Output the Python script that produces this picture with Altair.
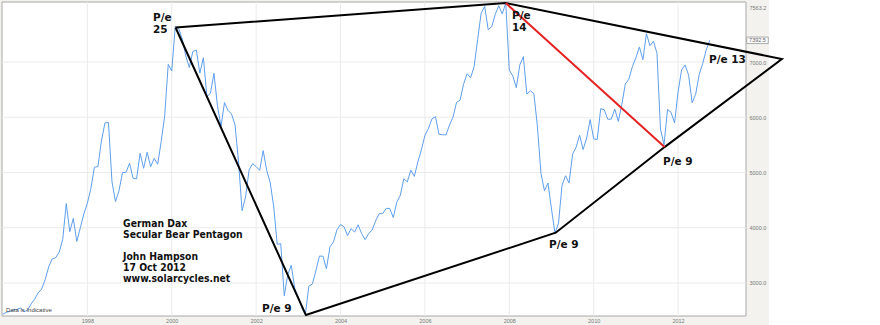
import altair as alt
import pandas as pd

# ---- data: DAX monthly closes ----
years = list(range(1996, 2013))
dax_1996 = [2436, 2470, 2486, 2516, 2523, 2549, 2480, 2510, 2620, 2707, 2819, 2889]
dax_1997 = [3062, 3291, 3436, 3458, 3560, 3791, 4438, 3928, 4169, 3752, 4000, 4250]
dax_1998 = [4442, 4710, 5096, 5107, 5568, 5897, 5904, 4834, 4474, 4671, 5000, 5002]
dax_1999 = [5167, 4895, 4884, 5347, 5076, 5366, 5105, 5257, 5150, 5560, 6030, 6958]
dax_2000 = [6836, 7644, 7599, 7414, 7110, 6898, 7191, 7215, 6798, 7078, 6373, 6434]
dax_2001 = [6795, 6208, 5830, 6265, 6123, 6058, 5862, 5188, 4308, 4559, 5045, 5160]
dax_2002 = [5107, 5039, 5397, 5041, 4818, 4383, 3700, 3712, 2769, 3153, 3320, 2893]
dax_2003 = [2748, 2547, 2424, 2942, 2983, 3221, 3487, 3485, 3257, 3656, 3745, 3965]
dax_2004 = [4059, 4018, 3856, 3985, 3921, 4053, 3896, 3785, 3893, 3960, 4126, 4256]
dax_2005 = [4255, 4350, 4349, 4185, 4461, 4587, 4887, 4830, 5044, 4929, 5193, 5408]
dax_2006 = [5674, 5796, 5970, 6010, 5693, 5683, 5682, 5860, 6004, 6269, 6309, 6597]
dax_2007 = [6789, 6715, 6917, 7409, 7883, 8007, 7584, 7638, 7862, 8019, 7871, 8067]
dax_2008 = [6852, 6748, 6535, 6949, 7097, 6418, 6480, 6422, 5831, 4988, 4669, 4810]
dax_2009 = [4338, 3900, 4085, 4769, 4941, 4809, 5332, 5458, 5675, 5415, 5626, 5957]
dax_2010 = [5609, 5598, 6154, 6136, 5964, 5966, 6148, 5925, 6229, 6601, 6688, 6914]
dax_2011 = [7077, 7272, 7041, 7514, 7294, 7376, 7159, 5785, 5502, 6141, 6089, 5898]
dax_2012 = [6459, 6856, 6947, 6761, 6264, 6416, 6772, 6971, 7216, 7392.5]
monthly = [dax_1996, dax_1997, dax_1998, dax_1999, dax_2000, dax_2001, dax_2002,
           dax_2003, dax_2004, dax_2005, dax_2006, dax_2007, dax_2008, dax_2009,
           dax_2010, dax_2011, dax_2012]

# pentagon vertices (decimal year, index level)
pent_t = [2000.09, 2007.917, 2014.46, 2011.68, 2009.10, 2003.18, 2000.09]
pent_v = [7625, 8067, 7054, 5460, 3910, 2420, 7625]
red_t = [2007.917, 2011.68]
red_v = [8067, 5460]

# annotations
pe_text = ["P/e", "25", "P/e", "14", "P/e 13", "P/e 9", "P/e 9", "P/e 9"]
pe_t = [1999.557, 1999.557, 2008.064, 2008.064, 2012.732, 2011.642, 2008.94, 2002.14]
pe_v = [7742, 7516, 7778, 7561, 6982, 5136, 3633, 2475]

title_lines = ["German Dax", "Secular Bear Pentagon", "John Hampson", "17 Oct 2012",
               "www.solarcycles.net"]
title_v = [4022, 3823, 3425, 3226, 3027]
title_t = 1998.846

note_text = ["Data is Indicative"]
note_t = [1996.073]
note_v = [2511]

x_ticks = [1998, 2000, 2002, 2004, 2006, 2008, 2010, 2012]
y_ticks = [3000, 4000, 5000, 6000, 7000]
y_top_label_pos = 7990
last_label = ["7392.5"]
last_value = [7392.5]

x_domain = [1995.977, 2013.61]
y_domain = [2402.6, 8086]

# ---- tables ----
rows = []
for yr, vals in zip(years, monthly):
    for i, v in enumerate(vals):
        rows.append({"t": yr + i / 12.0, "v": v})
line_df = pd.DataFrame(rows)
pent_df = pd.DataFrame({"t": pent_t, "v": pent_v, "o": list(range(len(pent_t)))})
red_df = pd.DataFrame({"t": red_t, "v": red_v})
pe_df = pd.DataFrame({"t": pe_t, "v": pe_v, "label": pe_text})
title_df = pd.DataFrame({"t": [title_t] * len(title_lines), "v": title_v, "label": title_lines})
note_df = pd.DataFrame({"t": note_t, "v": note_v, "label": note_text})
gx_df = pd.DataFrame({"t": x_ticks})
gy_df = pd.DataFrame({"v": y_ticks})
last_df = pd.DataFrame({"v": last_value, "label": last_label})
dummy = pd.DataFrame({"a": [0]})

W, H = 744, 314
xs = alt.Scale(domain=x_domain, nice=False, zero=False)
ys = alt.Scale(domain=y_domain, nice=False, zero=False)

X = alt.X("t:Q", scale=xs, title=None,
          axis=alt.Axis(values=x_ticks, format="d", grid=False, ticks=False, domain=False,
                        labelFontSize=5.5, labelFont="Liberation Sans", labelColor="#777777",
                        labelPadding=2, zindex=1))
Y = alt.Y("v:Q", scale=ys, title=None,
          axis=alt.Axis(orient="right", values=y_ticks + [y_top_label_pos],
                        labelExpr="datum.value > 7900 ? '7563.2' : format(datum.value, '.1f')",
                        grid=False, ticks=False, domain=False, labelAlign="left",
                        labelBaseline="middle", labelFontSize=5.5, labelFont="Liberation Sans",
                        labelColor="#777777", labelPadding=3, zindex=1))

panel = alt.Chart(dummy).mark_rect(fill="#f3f2ee").encode(
    x=alt.value(-2), x2=alt.value(767), y=alt.value(-2), y2=alt.value(323))
plot_bg = alt.Chart(dummy).mark_rect(fill="white", stroke="#a8a8a8", strokeWidth=1).encode(
    x=alt.value(0), x2=alt.value(W), y=alt.value(0), y2=alt.value(H))

grid_x = alt.Chart(gx_df).mark_rule(color="#ebebeb", strokeWidth=1).encode(
    x=alt.X("t:Q", scale=xs, title=None))
grid_y = alt.Chart(gy_df).mark_rule(color="#ebebeb", strokeWidth=1).encode(
    y=alt.Y("v:Q", scale=ys, title=None))

blue = alt.Chart(line_df).mark_line(color="#5e9fec", strokeWidth=1, clip=False).encode(x=X, y=Y)

pent = alt.Chart(pent_df).mark_line(color="black", strokeWidth=2, clip=False).encode(
    x=alt.X("t:Q", scale=xs, title=None), y=alt.Y("v:Q", scale=ys, title=None), order="o:Q")
red = alt.Chart(red_df).mark_line(color="#e52222", strokeWidth=2, clip=False).encode(
    x=alt.X("t:Q", scale=xs, title=None), y=alt.Y("v:Q", scale=ys, title=None))

pe = alt.Chart(pe_df).mark_text(font="DejaVu Sans", fontWeight="bold", fontSize=10.5,
                                align="left", baseline="alphabetic", color="#111111",
                                clip=False).encode(
    x=alt.X("t:Q", scale=xs, title=None), y=alt.Y("v:Q", scale=ys, title=None), text="label:N")
ttl = alt.Chart(title_df).mark_text(font="DejaVu Sans Condensed", fontWeight="bold", fontSize=10.3,
                                    align="left", baseline="alphabetic", color="#111111").encode(
    x=alt.X("t:Q", scale=xs, title=None), y=alt.Y("v:Q", scale=ys, title=None), text="label:N")
note = alt.Chart(note_df).mark_text(font="Liberation Sans", fontSize=6, align="left",
                                    baseline="middle", color="#444444").encode(
    x=alt.X("t:Q", scale=xs, title=None), y=alt.Y("v:Q", scale=ys, title=None), text="label:N")

box = alt.Chart(last_df).mark_point(shape="M-1,-0.3L1,-0.3L1,0.3L-1,0.3Z", size=466,
                                    filled=True, fill="#fbfbfb", stroke="#9a9a9a",
                                    strokeWidth=0.8, opacity=1, clip=False).encode(
    x=alt.value(755.5), y=alt.Y("v:Q", scale=ys, title=None))
box_txt = alt.Chart(last_df).mark_text(font="Liberation Sans", fontSize=5.5, align="center",
                                       baseline="middle", color="#666666", clip=False).encode(
    x=alt.value(755.5), y=alt.Y("v:Q", scale=ys, title=None), text="label:N")

chart = alt.layer(panel, plot_bg, grid_x, grid_y, blue, pent, red, pe, ttl, note, box, box_txt).properties(
    width=W, height=H,
    autosize=alt.AutoSizeParams(type="none"),
    padding={"left": 2, "top": 2, "right": 134, "bottom": 9},
    background="white",
).configure_view(strokeWidth=0)

chart.save("out.html", embed_options={"renderer": "svg", "actions": False})
